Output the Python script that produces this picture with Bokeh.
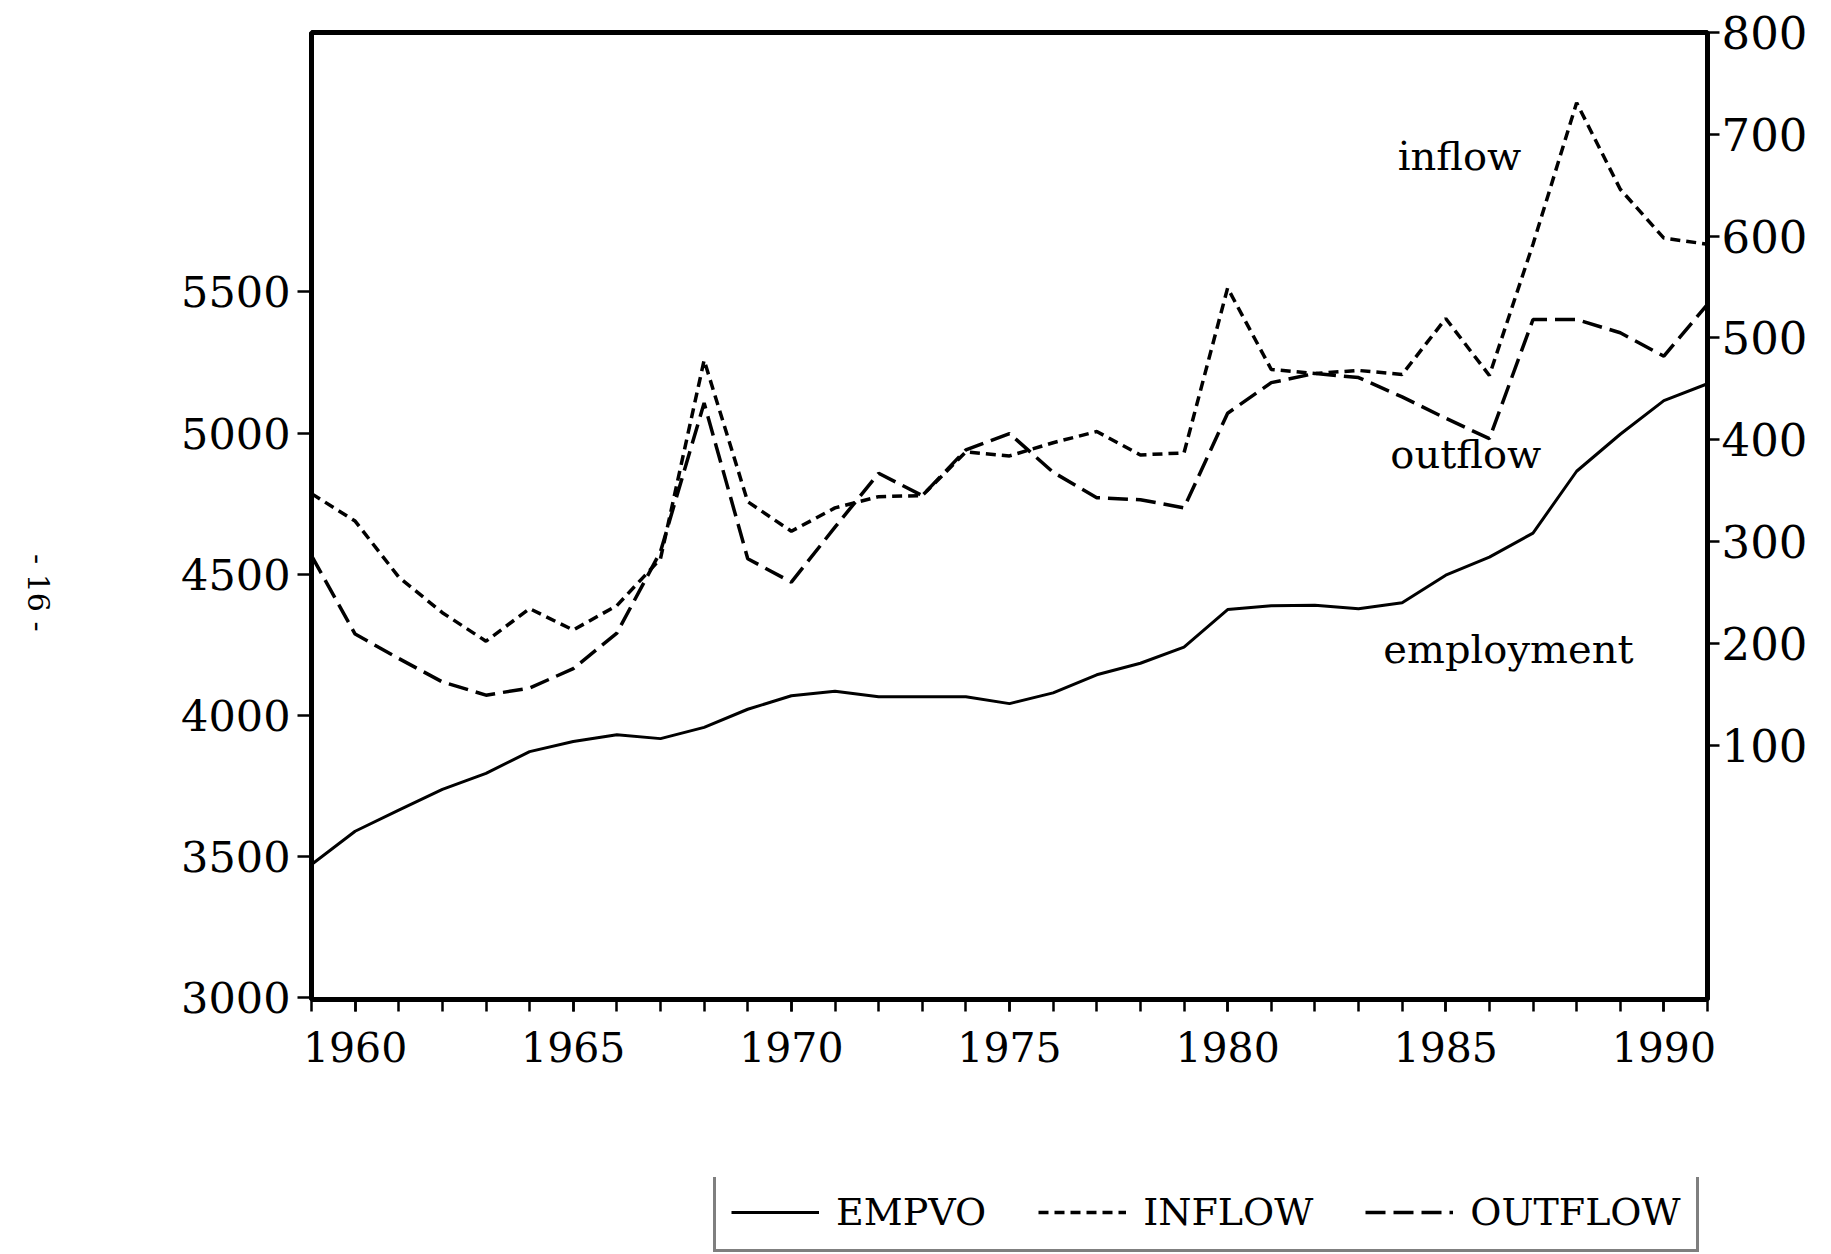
import math
from bokeh.plotting import figure
from bokeh.layouts import column
from bokeh.models import Range1d, LinearAxis, FixedTicker, Legend, LegendItem, Label
from bokeh.embed import file_html
from bokeh.resources import INLINE

years = list(range(1959, 1992))
empvo = [3472, 3590, 3665, 3738, 3795, 3872, 3908, 3932, 3918, 3958,
         4022, 4070, 4086, 4066, 4066, 4066, 4042, 4080, 4144, 4185,
         4242, 4375, 4389, 4390, 4378, 4399, 4497, 4561, 4646, 4865,
         4996, 5115, 5175]
inflow = [347, 320, 265, 230, 202, 234, 213, 237, 283, 478,
          339, 310, 333, 344, 345, 388, 384, 397, 408, 385,
          387, 549, 469, 465, 468, 464, 519, 463, 592, 731,
          646, 598, 592]
outflow = [286, 209, 185, 162, 149, 156, 175, 210, 290, 436,
           283, 260, 314, 367, 345, 390, 406, 368, 343, 341,
           333, 426, 456, 465, 461, 442, 421, 401, 518, 518,
           505, 482, 533]

x_ticks = [1960, 1965, 1970, 1975, 1980, 1985, 1990]
left_ticks = [3000, 3500, 4000, 4500, 5000, 5500]
right_ticks = [100, 200, 300, 400, 500, 600, 700, 800]
legend_labels = ["EMPVO", "INFLOW", "OUTFLOW"]
page_number = "- 16 -"

FONT = "DejaVu Serif"
EMP_STYLE = dict(line_color="black", line_width=3)
IN_STYLE = dict(line_color="black", line_width=3.5, line_dash="10 6")
OUT_STYLE = dict(line_color="black", line_width=3.5, line_dash="20 8")

BORDER_L, BORDER_R = 310, 124

# ---------------- main chart ----------------
p = figure(width=1831, height=1177, output_backend="svg", toolbar_location=None,
           x_range=Range1d(1959, 1991), y_range=Range1d(2994, 6419),
           min_border_left=BORDER_L, min_border_right=BORDER_R,
           min_border_top=32, min_border_bottom=178)
p.extra_y_ranges = {"right": Range1d(-150, 800)}
p.grid.visible = False
p.background_fill_color = "white"
p.border_fill_color = "white"
p.outline_line_color = "black"
p.outline_line_width = 5
p.outline_line_alpha = 1.0


def style_axis(ax, size, tick_out, standoff):
    ax.axis_line_color = None
    ax.major_tick_in = 0
    ax.major_tick_out = tick_out
    ax.minor_tick_in = 0
    ax.minor_tick_out = tick_out
    ax.major_tick_line_width = 2.5
    ax.minor_tick_line_width = 2.5
    ax.major_tick_line_color = "black"
    ax.minor_tick_line_color = "black"
    ax.major_label_text_font = FONT
    ax.major_label_text_font_size = size
    ax.major_label_text_color = "black"
    ax.major_label_standoff = standoff


xa = p.xaxis[0]
xa.ticker = FixedTicker(ticks=x_ticks, minor_ticks=years)
style_axis(xa, "41px", 12, 20)

ya = p.yaxis[0]
ya.ticker = FixedTicker(ticks=left_ticks, minor_ticks=[])
style_axis(ya, "43px", 14, 7)

# page number on the left margin, read from top to bottom
pn = LinearAxis(ticker=FixedTicker(ticks=[4297], minor_ticks=[]),
                major_label_overrides={4297: page_number})
style_axis(pn, "30px", 0, 140)
pn.major_tick_line_color = None
pn.minor_tick_line_color = None
pn.major_label_orientation = -math.pi / 2
p.add_layout(pn, "left")

ra = LinearAxis(y_range_name="right",
                ticker=FixedTicker(ticks=right_ticks, minor_ticks=[]))
style_axis(ra, "45px", 12, 2)
p.add_layout(ra, "right")

p.line(years, empvo, **EMP_STYLE)
p.line(years, inflow, y_range_name="right", **IN_STYLE)
p.line(years, outflow, y_range_name="right", **OUT_STYLE)

for txt, x, y in [("inflow", 1983.90, 679), ("outflow", 1983.73, 386),
                  ("employment", 1983.57, 194)]:
    p.add_layout(Label(x=x, y=y, y_range_name="right", text=txt,
                       text_font=FONT, text_font_size="40px",
                       text_color="black", text_baseline="alphabetic",
                       text_align="left"))

# ---------------- legend strip (same side borders as the chart) ----------------
lg = figure(width=1831, height=77, output_backend="svg", toolbar_location=None,
            x_range=Range1d(0, 1), y_range=Range1d(0, 1),
            x_axis_location=None, y_axis_location=None,
            min_border_left=BORDER_L, min_border_right=BORDER_R,
            min_border_top=0, min_border_bottom=0)
lg.grid.visible = False
lg.outline_line_color = None
lg.background_fill_color = "white"
lg.border_fill_color = "white"
# same series drawn out of this strip's view; only their legend samples show
l_emp = lg.line(years, empvo, **EMP_STYLE)
l_in = lg.line(years, inflow, **IN_STYLE)
l_out = lg.line(years, outflow, **OUT_STYLE)

legend = Legend(items=[LegendItem(label=legend_labels[0], renderers=[l_emp]),
                       LegendItem(label=legend_labels[1], renderers=[l_in]),
                       LegendItem(label=legend_labels[2], renderers=[l_out])],
                orientation="horizontal", location=(402, 2),
                glyph_width=88, glyph_height=40, label_standoff=17,
                spacing=52, padding=15, margin=0,
                label_text_font=FONT, label_text_font_size="38px",
                label_text_color="black",
                border_line_color="black", border_line_width=3,
                background_fill_color="white", background_fill_alpha=1.0)
lg.add_layout(legend)

layout = column(p, lg, spacing=0)
open("out.html", "w").write(file_html(layout, INLINE))
